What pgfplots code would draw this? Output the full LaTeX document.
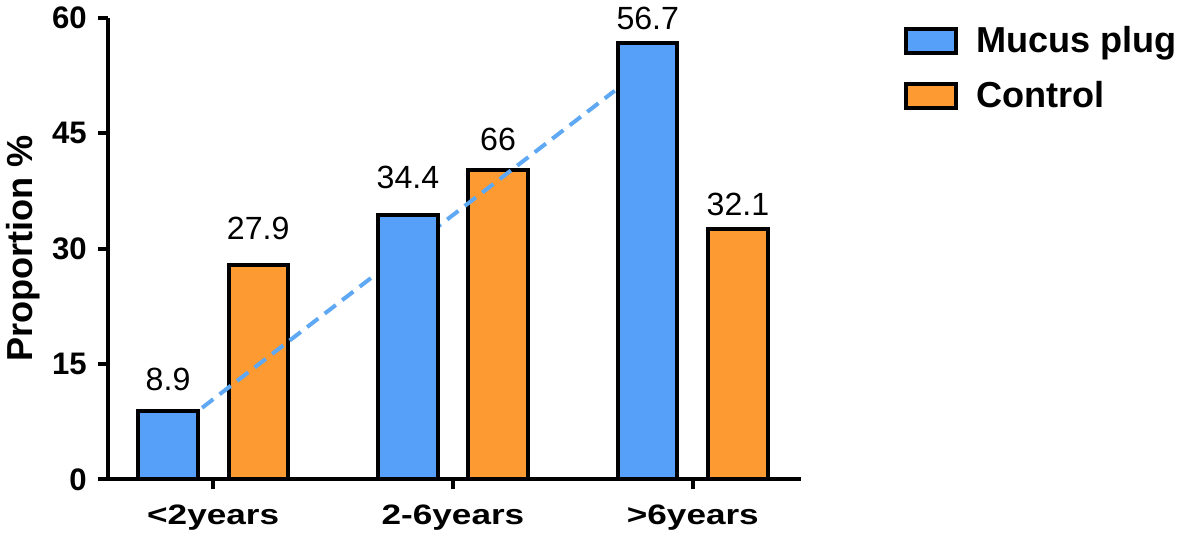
\documentclass[border=0pt]{standalone}
\usepackage{fontspec}
\setmainfont{Liberation Sans}
\newfontfamily\widesans[FakeStretch=1.25]{Liberation Sans}
\usepackage{pgfplots}
\pgfplotsset{compat=1.18}
\usepackage{pgfplotstable}

\definecolor{mublue}{HTML}{56A0FA}
\definecolor{ctorange}{HTML}{FE9A32}
\definecolor{trendblue}{HTML}{5EA8F4}

% x already includes the bar offset inside each group
% dy = gap (pt) between bar top and its label, as in the original
\pgfplotstableread{
x       y     lab   dy
-0.188  8.9   8.9   9
0.812   34.4  34.4  12
1.812   56.7  56.7  5.5
}\mucus
\pgfplotstableread{
x       y     lab   dy
0.188   27.8  27.9  12
1.188   40.2  66    8.5
2.188   32.6  32.1  5.5
}\control

\begin{document}
\begin{tikzpicture}
\begin{axis}[
    scale only axis, width=345.5pt, height=230pt,
    xmin=-0.439, xmax=2.452, ymin=0, ymax=60,
    axis lines=left, axis line style={-, line width=2pt},
    xtick={0,1,2}, xticklabels={<2years,2-6years,>6years},
    ytick={0,15,30,45,60},
    tick align=outside, major tick length=5pt,
    tick style={line width=2pt, black},
    /pgf/number format/assume math mode=true,
    yticklabel style={font=\fontsize{15.5pt}{18pt}\selectfont\bfseries, xshift=-2pt},
    xticklabel style={font=\fontsize{14pt}{17pt}\widesans\bfseries, yshift=-4pt},
    ylabel={Proportion \%},
    ylabel style={font=\fontsize{18pt}{21pt}\selectfont\bfseries,
        at={(axis description cs:-0.1216,0.5)}, anchor=center},
    clip=false,
    legend style={draw=none, fill=none, inner sep=0pt,
        at={(1,1)}, anchor=north west, xshift=51pt, yshift=-2pt,
        font=\fontsize{18pt}{21pt}\selectfont\bfseries,
        row sep=9pt, cells={anchor=west},
        /tikz/every odd column/.append style={column sep=7pt}},
    legbox/.style={legend image code/.code={
        \draw[##1, draw=black, line width=2pt] (0pt,-6pt) rectangle (25pt,6pt);}},
    barlab/.style={point meta=explicit symbolic,
        visualization depends on={\thisrow{dy} \as \labdy},
        nodes near coords={\pgfplotspointmeta},
        nodes near coords style={font=\fontsize{16pt}{19pt}\selectfont,
            anchor=south, inner sep=0pt, yshift=\labdy pt, black}},
]
\addlegendimage{legbox, fill=mublue}
\addlegendentry{Mucus plug}
\addlegendimage{legbox, fill=ctorange}
\addlegendentry{Control}

% control bars first, then the trend line over them, then mucus bars
\addplot[ybar, bar width=0.247, bar shift=0, fill=ctorange, draw=black,
    line width=2pt, barlab, forget plot] table[x=x, y=y, meta=lab] {\control};
\addplot[trendblue, line width=2pt, dash pattern=on 7pt off 4pt, forget plot]
    coordinates {(-0.046,9.3) (1.674,50.5)};
\addplot[ybar, bar width=0.247, bar shift=0, fill=mublue, draw=black,
    line width=2pt, barlab, forget plot] table[x=x, y=y, meta=lab] {\mucus};
\end{axis}
\end{tikzpicture}
\end{document}
